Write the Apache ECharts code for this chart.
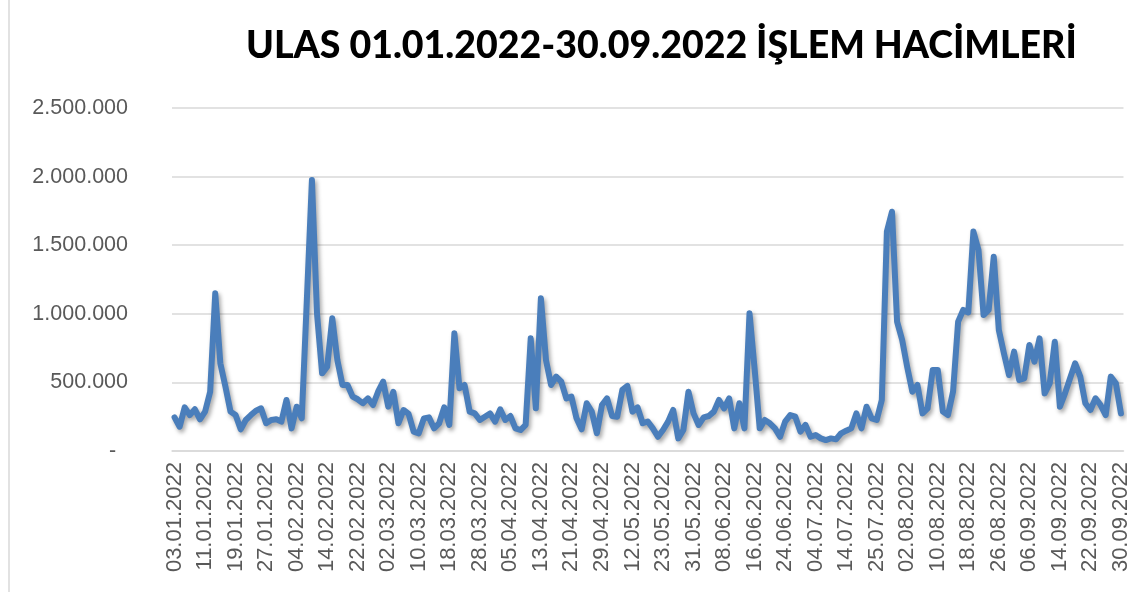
<!DOCTYPE html>
<html>
<head>
<meta charset="utf-8">
<title>ULAS işlem hacimleri</title>
<script src="https://cdn.jsdelivr.net/npm/echarts@6/dist/echarts.min.js"></script>
<style>
    html, body {margin: 0; padding: 0; background: #fff;}
    #chart {width: 1138px; height: 592px;}
</style>
</head>
<body>
<div id="chart"></div>
<script>
    // işlem günleri (tatiller hariç)
    var dates = [
        '03.01.2022','04.01.2022','05.01.2022','06.01.2022','07.01.2022','10.01.2022','11.01.2022','12.01.2022','13.01.2022','14.01.2022','17.01.2022','18.01.2022','19.01.2022','20.01.2022','21.01.2022','24.01.2022','25.01.2022','26.01.2022','27.01.2022','28.01.2022','31.01.2022',
        '01.02.2022','02.02.2022','03.02.2022','04.02.2022','07.02.2022','08.02.2022','09.02.2022','10.02.2022','11.02.2022','14.02.2022','15.02.2022','16.02.2022','17.02.2022','18.02.2022','21.02.2022','22.02.2022','23.02.2022','24.02.2022','25.02.2022','28.02.2022',
        '01.03.2022','02.03.2022','03.03.2022','04.03.2022','07.03.2022','08.03.2022','09.03.2022','10.03.2022','11.03.2022','14.03.2022','15.03.2022','16.03.2022','17.03.2022','18.03.2022','21.03.2022','22.03.2022','23.03.2022','24.03.2022','25.03.2022','28.03.2022','29.03.2022','30.03.2022','31.03.2022',
        '01.04.2022','04.04.2022','05.04.2022','06.04.2022','07.04.2022','08.04.2022','11.04.2022','12.04.2022','13.04.2022','14.04.2022','15.04.2022','18.04.2022','19.04.2022','20.04.2022','21.04.2022','22.04.2022','25.04.2022','26.04.2022','27.04.2022','28.04.2022','29.04.2022',
        '05.05.2022','06.05.2022','09.05.2022','10.05.2022','11.05.2022','12.05.2022','13.05.2022','16.05.2022','17.05.2022','18.05.2022','20.05.2022','23.05.2022','24.05.2022','25.05.2022','26.05.2022','27.05.2022','30.05.2022','31.05.2022',
        '01.06.2022','02.06.2022','03.06.2022','06.06.2022','07.06.2022','08.06.2022','09.06.2022','10.06.2022','13.06.2022','14.06.2022','15.06.2022','16.06.2022','17.06.2022','20.06.2022','21.06.2022','22.06.2022','23.06.2022','24.06.2022','27.06.2022','28.06.2022','29.06.2022','30.06.2022',
        '01.07.2022','04.07.2022','05.07.2022','06.07.2022','07.07.2022','08.07.2022','13.07.2022','14.07.2022','18.07.2022','19.07.2022','20.07.2022','21.07.2022','22.07.2022','25.07.2022','26.07.2022','27.07.2022','28.07.2022','29.07.2022',
        '01.08.2022','02.08.2022','03.08.2022','04.08.2022','05.08.2022','08.08.2022','09.08.2022','10.08.2022','11.08.2022','12.08.2022','15.08.2022','16.08.2022','17.08.2022','18.08.2022','19.08.2022','22.08.2022','23.08.2022','24.08.2022','25.08.2022','26.08.2022','29.08.2022','31.08.2022',
        '01.09.2022','02.09.2022','05.09.2022','06.09.2022','07.09.2022','08.09.2022','09.09.2022','12.09.2022','13.09.2022','14.09.2022','15.09.2022','16.09.2022','19.09.2022','20.09.2022','21.09.2022','22.09.2022','23.09.2022','26.09.2022','27.09.2022','28.09.2022','29.09.2022','30.09.2022'
    ];

    var volumes = [
        245000, 177000, 318000, 262000, 304000, 231000, 287000, 432000, 1149000, 639000,
        469000, 287000, 262000, 158000, 226000, 262000, 294000, 311000, 202000, 226000,
        231000, 214000, 372000, 165000, 323000, 238000, 1100000, 1975000, 1000000, 566000,
        615000, 967000, 663000, 481000, 481000, 396000, 377000, 348000, 384000, 335000,
        432000, 505000, 323000, 432000, 202000, 299000, 270000, 141000, 129000, 238000,
        245000, 165000, 202000, 318000, 190000, 858000, 457000, 481000, 287000, 274000,
        226000, 250000, 274000, 214000, 304000, 226000, 255000, 165000, 153000, 190000,
        821000, 311000, 1113000, 663000, 481000, 542000, 505000, 384000, 396000, 238000,
        158000, 348000, 287000, 129000, 335000, 384000, 255000, 250000, 445000, 474000,
        287000, 318000, 202000, 215000, 165000, 104000, 153000, 214000, 299000, 92000,
        153000, 432000, 274000, 190000, 245000, 255000, 287000, 372000, 311000, 384000,
        165000, 348000, 165000, 1004000, 600000, 165000, 226000, 202000, 165000, 104000,
        214000, 262000, 250000, 141000, 190000, 104000, 116000, 92000, 80000, 92000,
        85000, 129000, 148000, 165000, 274000, 165000, 323000, 238000, 226000, 372000,
        1600000, 1744000, 943000, 809000, 610000, 432000, 481000, 274000, 311000, 590000,
        590000, 287000, 262000, 432000, 943000, 1028000, 1010000, 1599000, 1465000, 991000,
        1028000, 1416000, 882000, 712000, 554000, 724000, 518000, 530000, 773000, 651000,
        821000, 420000, 493000, 797000, 323000, 420000, 530000, 639000, 542000, 348000,
        299000, 384000, 335000, 262000, 542000, 493000, 274000
    ];

    var yTicks = [0, 500000, 1000000, 1500000, 2000000, 2500000];

    function formatTr(v) {
        if (v === 0) {
            return '-  ';
        }
        return String(v).replace(/\B(?=(\d{3})+(?!\d))/g, '.');
    }

    var chart = echarts.init(document.getElementById('chart'));

    var option = {
        backgroundColor: '#fff',
        animation: false,
        title: {
            text: 'ULAS 01.01.2022-30.09.2022 İŞLEM HACİMLERİ',
            left: 241,
            top: 22,
            textStyle: {
                fontFamily: 'Lato',
                fontWeight: 900,
                fontSize: 37.5,
                color: '#000'
            }
        },
        graphic: [{
            type: 'line',
            shape: {x1: 9, y1: 0, x2: 9, y2: 592},
            style: {stroke: '#d9d9d9', lineWidth: 1.5}
        }],
        grid: {
            left: 172,
            right: 14.5,
            top: 108,
            bottom: 141
        },
        xAxis: {
            type: 'category',
            data: dates,
            boundaryGap: true,
            axisLine: {
                show: true,
                lineStyle: {color: '#d9d9d9', width: 1.5}
            },
            axisTick: {show: false},
            axisLabel: {
                interval: 5,
                rotate: 90,
                margin: 11,
                color: '#595959',
                fontFamily: 'Liberation Sans',
                fontSize: 22
            },
            splitLine: {show: false}
        },
        yAxis: {
            type: 'value',
            min: yTicks[0],
            max: yTicks[yTicks.length - 1],
            interval: yTicks[1] - yTicks[0],
            axisLine: {show: false},
            axisTick: {show: false},
            axisLabel: {
                margin: 44,
                color: '#595959',
                fontFamily: 'Liberation Sans',
                fontSize: 21.5,
                formatter: formatTr
            },
            splitLine: {
                lineStyle: {color: '#d9d9d9', width: 1.5}
            }
        },
        series: [{
            name: 'İşlem Hacmi',
            type: 'line',
            data: volumes,
            symbol: 'none',
            smooth: false,
            lineStyle: {
                color: '#4a7ebb',
                width: 6,
                join: 'round',
                cap: 'round',
                shadowColor: 'rgba(0,0,0,0.35)',
                shadowBlur: 4,
                shadowOffsetX: 2,
                shadowOffsetY: 3
            }
        }]
    };

    chart.setOption(option);
</script>
</body>
</html>
